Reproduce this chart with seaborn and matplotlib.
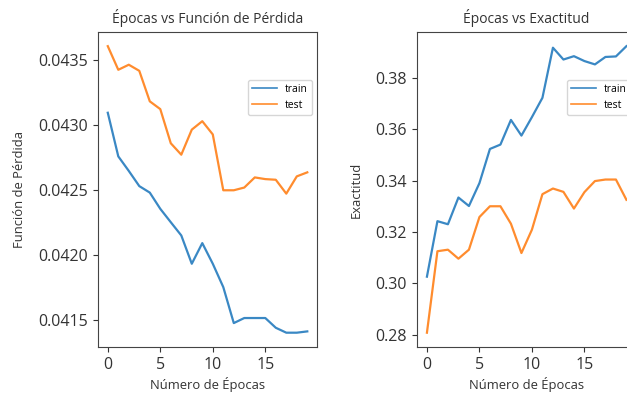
import numpy as np
import pandas as pd
import matplotlib
matplotlib.use("Agg")
import matplotlib.pyplot as plt
import seaborn as sns

plt.rcParams['font.family'] = ['Open Sans', 'DejaVu Sans']

epochs = list(range(20))
loss_train = [0.043094, 0.042758, 0.042646, 0.042529, 0.042479, 0.042354, 0.042251,
              0.042149, 0.041931, 0.042090, 0.041931, 0.041751, 0.041474, 0.041513,
              0.041513, 0.041513, 0.041438, 0.041400, 0.041400, 0.041410]
loss_test = [0.043607, 0.043425, 0.043464, 0.043417, 0.043182, 0.043122, 0.042859,
             0.042771, 0.042964, 0.043029, 0.042927, 0.042497, 0.042497, 0.042518,
             0.042596, 0.042583, 0.042578, 0.042471, 0.042604, 0.042635]
acc_train = [0.3026, 0.3242, 0.3230, 0.3334, 0.3301, 0.3390, 0.3523, 0.3540, 0.3636,
             0.3575, 0.3647, 0.3722, 0.3917, 0.3871, 0.3884, 0.3865, 0.3852, 0.3881,
             0.3883, 0.3923]
acc_test = [0.2808, 0.3125, 0.3131, 0.3096, 0.3131, 0.3258, 0.3300, 0.3300, 0.3232,
            0.3118, 0.3209, 0.3347, 0.3369, 0.3356, 0.3291, 0.3355, 0.3398, 0.3404,
            0.3404, 0.3325]
series_names = ['train', 'test']

def long_df(tr, te):
    return pd.DataFrame({
        'epoch': epochs * 2,
        'value': tr + te,
        'set': [series_names[0]] * len(tr) + [series_names[1]] * len(te),
    })

fig = plt.figure(figsize=(6.27, 3.93), dpi=100)
ax1 = fig.add_axes([0.156, 0.117, 0.350, 0.802])
ax2 = fig.add_axes([0.665, 0.117, 0.350, 0.802])

pal = {'train': '#3a88c4', 'test': '#ff8c2e'}

sns.lineplot(data=long_df(loss_train, loss_test), x='epoch', y='value', hue='set',
             palette=pal, ax=ax1, linewidth=1.6)
sns.lineplot(data=long_df(acc_train, acc_test), x='epoch', y='value', hue='set',
             palette=pal, ax=ax2, linewidth=1.6)

for ax, title, ylab in [(ax1, 'Épocas vs Función de Pérdida', 'Función de Pérdida'),
                        (ax2, 'Épocas vs Exactitud', 'Exactitud')]:
    ax.set_title(title, fontsize=10, color='#333333')
    ax.set_xlabel('Número de Épocas', fontsize=9.4, color='#333333', labelpad=3)
    ax.set_ylabel(ylab, fontsize=9.4, color='#333333', labelpad=9)
    ax.set_xticks([0, 5, 10, 15])
    ax.tick_params(labelsize=11.5, colors='#333333')
    for s in ax.spines.values():
        s.set_color('#444444')
    leg = ax.legend(loc='upper right', bbox_to_anchor=(1.0, 0.865), fontsize=7.5,
                    title=None, handlelength=2.4)
    for ln in leg.get_lines():
        ln.set_linewidth(1.2)

ax1.set_yticks([0.0415, 0.0420, 0.0425, 0.0430, 0.0435])
ax1.yaxis.set_major_formatter(matplotlib.ticker.FormatStrFormatter('%.4f'))
ax2.set_yticks([0.28, 0.30, 0.32, 0.34, 0.36, 0.38])
ax2.yaxis.set_major_formatter(matplotlib.ticker.FormatStrFormatter('%.2f'))

fig.savefig('out.png', dpi=100)
